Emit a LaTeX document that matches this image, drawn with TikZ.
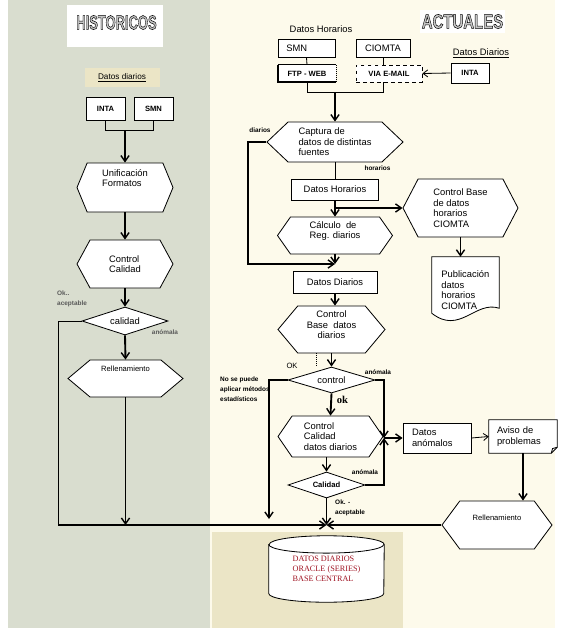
\documentclass[tikz,border=0pt]{standalone}
\usepackage{fontspec}
\setmainfont{Liberation Sans}
\newfontfamily\dbfont{Liberation Serif}
\usetikzlibrary{positioning,arrows.meta,shapes.geometric,shapes.symbols,backgrounds}

\definecolor{histgray}{RGB}{217,221,207}
\definecolor{actcream}{RGB}{253,250,235}
\definecolor{dbtan}{RGB}{235,229,198}
\definecolor{dbred}{RGB}{160,20,35}

\newcommand{\outl}[1]{\special{pdf:literal direct 2 Tr 0.45 w 0 G}#1\special{pdf:literal direct 0 Tr}}
\newcommand{\lifted}[2]{\raisebox{#1}[0pt][0pt]{\begin{tabular}{@{}l@{}}#2\end{tabular}}}

\tikzset{
  sz/.style 2 args={minimum width=#1*0.03cm, minimum height=#2*0.03cm},
  box/.style={draw, fill=white, line width=0.7pt, inner sep=1pt, font=\fontsize{8}{9}\selectfont},
  lbox/.style={box, align=left, inner xsep=0.25cm},
  hexa/.style={draw, fill=white, line width=0.7pt, signal, signal from=nowhere,
    signal to=east and west, inner sep=0pt, align=left, font=\fontsize{8}{9}\selectfont},
  decision/.style={draw, fill=white, line width=0.7pt, diamond, aspect=3, inner sep=0pt,
    font=\fontsize{8}{9}\selectfont},
  bsmall/.style={font=\fontsize{6.5}{8}\selectfont\bfseries},
  tag/.style={font=\fontsize{5.5}{8.5}\selectfont\bfseries, inner sep=0pt, align=left},
  heading/.style={font=\fontsize{17}{17}\selectfont\bfseries, text=gray!45, inner sep=0pt},
  flow/.style={line width=1.6pt, -{Straight Barb[length=5pt,width=7pt,line width=1.2pt]}},
  link/.style={line width=0.7pt},
  thinflow/.style={line width=0.7pt, -{Straight Barb[length=4pt,width=6pt]}},
}

\begin{document}
\begin{tikzpicture}[x=0.03cm, y=-0.03cm]
\useasboundingbox (0,0) rectangle (567,634);
% panels
\begin{scope}[on background layer]
\fill[white] (0,0) rectangle (567,634);
\fill[histgray] (8,0) rectangle (210,628);
\fill[actcream] (210,0) rectangle (555,628);
\fill[dbtan] (212,532) rectangle (403,628);
\fill[white] (67,5) rectangle (163,47);
\fill[white] (420,10) rectangle (505,33);
\fill[dbtan] (85,68) rectangle (160,87);
\end{scope}

% historicos
\node[heading, xscale=0.65] (histit) at (116.5,22.5) {\outl{HISTORICOS}};
\node[font=\fontsize{7}{8}\selectfont, inner sep=0pt] (hdd) at (122,78) {\underline{Datos diarios}};
\node[box, bsmall, sz={39}{23}] (hinta) at (105.5,108.5) {INTA};
\node[box, bsmall, sz={39}{23}] (hsmn) at (153.5,108.5) {SMN};
\node[hexa, sz={96}{49}, signal pointer angle=135] (unif) at (125,187.5) {\lifted{5pt}{Unificación\\Formatos}};
\node[hexa, sz={96}{48}, signal pointer angle=123] (hcal) at (125,264) {Control\\Calidad};
\node[decision, sz={86}{28}] (hcald) at (125,321) {calidad};
\node[hexa, sz={115}{37}, signal pointer angle=80, font=\fontsize{6.5}{8}\selectfont] (hrel) at (125.5,378.5) {\raisebox{6pt}[0pt][0pt]{Rellenamiento}};
\node[tag, text=black!65, anchor=west] (hok) at (57,299) {Ok..\\aceptable};
\node[tag, text=black!65] (hanom) at (165,332) {anómala};

% actuales
\node[heading, xscale=0.75] (acttit) at (462.5,21.5) {\outl{ACTUALES}};
\node[inner sep=0pt, font=\fontsize{8}{9}\selectfont] (lhor) at (321,29) {Datos Horarios};
\node[lbox, sz={57}{18}, text width=1.21cm] (asmn) at (306.5,48) {SMN};
\node[box, sz={54}{18}] (acio) at (383,48) {CIOMTA};
\node[inner sep=0pt, font=\fontsize{8}{9}\selectfont] (lddia) at (481,53) {\underline{Datos Diarios}};
\node[bsmall, fill=white, inner sep=1pt, sz={58}{17}] (ftp) at (307,73.5) {FTP - WEB};
\node[box, bsmall, dashed, sz={66}{17}] (mail) at (389,73.5) {VIA E-MAIL};
\node[box, bsmall, sz={38}{20}] (ainta) at (470,73) {INTA};
\node[hexa, sz={136}{40}, signal pointer angle=87] (capt) at (335,142) {Captura de\\datos de distintas\\fuentes};
\node[tag] (tdia) at (260,130) {diarios};
\node[tag] (thor) at (377.5,168) {horarios};
\node[box, sz={87}{21}] (dhor) at (335,189.5) {Datos Horarios};
\node[hexa, sz={115}{37}, signal pointer angle=110] (calc) at (335,235.5) {\lifted{1.5pt}{Cálculo\ \ de\\Reg. diarios}};
\node[hexa, sz={115}{58}, signal pointer angle=125] (cbh) at (460.5,208) {Control Base\\de datos\\horarios\\CIOMTA};
\node[align=left, text width=1.45cm, inner xsep=0.27cm, sz={67}{66}, font=\fontsize{8}{9}\selectfont] (pub) at (465.5,290) {Publicación\\datos\\horarios\\CIOMTA};
\node[box, sz={84}{22}] (ddia) at (335,282) {Datos Diarios};
\node[hexa, sz={107}{47}, signal pointer angle=100, align=center] (cbd) at (331.5,329.5) {\lifted{1pt}{\hfill Control\hfill\null\\Base\ \ datos\\\hfill diarios\hfill\null}};
\node[decision, sz={87}{26}] (ctrlD) at (331.5,380) {control};
\node[font=\fontsize{6.5}{8}\selectfont, inner sep=0pt] (tok) at (292,366) {OK};
\node[tag] (tan1) at (378,372) {anómala};
\node[tag, anchor=west] (tnsp) at (220,389.5) {No se puede\\aplicar métodos\\estadísticos};
\node[font=\dbfont\bfseries\fontsize{9}{10}\selectfont, inner sep=0pt] (tokb) at (342.5,400) {ok};
\node[hexa, sz={105}{41}, signal pointer angle=111] (ccd) at (330.5,436.5) {Control\\Calidad\\datos diarios};
\node[decision, bsmall, sz={77}{26}] (calD) at (326.5,485) {Calidad};
\node[tag] (tan2) at (365,472) {anómala};
\node[tag, anchor=west] (tokac) at (335,508) {Ok. -\\aceptable};
\node[lbox, sz={68}{30}, text width=1.5cm, inner xsep=0.27cm] (danom) at (437,438) {Datos\\anómalos};
\node[align=left, sz={68}{33}, text width=1.56cm, inner xsep=0.24cm, font=\fontsize{8}{9}\selectfont] (aviso) at (523,436.5) {Aviso de\\problemas};
\node[hexa, sz={110}{48}, signal pointer angle=107, font=\fontsize{6.5}{8}\selectfont] (hrelR) at (497,525) {\raisebox{3.5pt}[0pt][0pt]{Rellenamiento}};
\node[align=left, sz={115}{66}, text=dbred, font=\dbfont\fontsize{7}{8.5}\selectfont] (db) at (326.5,569) {DATOS DIARIOS\\ORACLE (SERIES)\\BASE CENTRAL};

% outlines of the drawn symbols
\begin{scope}[on background layer]
\draw[link, fill=white] (pub.north west) -- (pub.north east) -- ([yshift=0.45cm]pub.south east)
  .. controls ([xshift=-0.72cm,yshift=0.69cm]pub.south east) and ([xshift=0.84cm,yshift=-0.36cm]pub.south west) .. ([yshift=0.3cm]pub.south west) -- cycle;
\draw[link, fill=white] (aviso.north west) -- (aviso.north east) -- ([yshift=0.18cm]aviso.south east)
  -- ([xshift=-0.18cm]aviso.south east) -- (aviso.south west) -- cycle;
\draw[link] ([yshift=0.18cm]aviso.south east) -- ([xshift=-0.14cm,yshift=0.14cm]aviso.south east) -- ([xshift=-0.18cm]aviso.south east);
\draw[link, fill=white] ([yshift=-0.26cm]db.north west) -- ([yshift=0.26cm]db.south west)
  arc[start angle=180, end angle=360, x radius=1.725cm, y radius=0.26cm] -- ([yshift=-0.26cm]db.north east)
  arc[start angle=0, end angle=180, x radius=1.725cm, y radius=0.26cm] -- cycle;
\draw[link] ([yshift=-0.26cm]db.north west) arc[start angle=180, end angle=360, x radius=1.725cm, y radius=0.26cm];
\end{scope}
\draw[link] (ftp.north west) -- (ftp.north east);
\draw[link, densely dotted] (ftp.north east) -- (ftp.south east);
\draw[line width=1.6pt] (ftp.north west) -- (ftp.south west) -- (ftp.south east);

% connectors, historicos
\draw[link] (hinta.south) -- ++(0,10) -| (hsmn.south);
\coordinate (hjoin) at (125,130);
\draw[flow] (hjoin) -- (unif.north);
\draw[flow] (unif.south) -- (hcal.north);
\draw[flow] (hcal.south) -- (hcald.north);
\draw[flow] (hcald.south) -- (hrel.north);
\coordinate (lcorner) at (58,525);
\coordinate (hub) at (326.5,525);
\draw[link] (hcald.west) -| (lcorner);
\draw[flow] (hrel.south) -- (hrel.south |- hub);
\draw[flow] (lcorner) -- (hub);
\draw[flow] (hrelR.west) -- (hub);

% connectors, actuales
\draw[link] (asmn.south) -- (ftp.north);
\draw[link] (acio.south) -- (acio.south |- mail.north);
\draw[thinflow] (ainta.west) -- (mail.east);
\draw[link] (ftp.south) -- ++(0,10) -| (acio.south |- mail.south);
\coordinate (ajoin) at (335,92);
\draw[flow] (ajoin) -- (capt.north);
\draw[link] (capt.south) -- (dhor.north);
\draw[flow] (dhor.south) -- (calc.north);
\draw[flow] (dhor.south |- cbh.west) -- (cbh.west);
\coordinate (djoin) at (335,264);
\draw[flow] (capt.west) -- ++(-18,0) |- (djoin);
\draw[flow] (calc.south) -- (djoin);
\draw[flow] (ddia.south) -- (ddia.south |- cbd.north);
\draw[flow] (cbh.south) -- (cbh.south |- pub.north);
\draw[flow] (cbd.south) -- (ctrlD.north);
\draw[link, densely dotted] ([xshift=-0.45cm]cbd.south) -- ([xshift=-0.45cm,yshift=-0.4cm]cbd.south);
\draw[flow] (ctrlD.south) -- (ccd.north);
\draw[flow] (calD.north |- ccd.south) -- (calD.north);
\coordinate (anjoin) at (384,438);
\draw[flow] (ctrlD.east) -| (anjoin);
\draw[flow] (calD.east) -| (anjoin);
\draw[flow] (anjoin) -- (danom.west);
\coordinate (nspend) at (269,519);
\draw[flow] (ctrlD.west) -| (nspend);
\draw[flow] (calD.south) -- (hub);
\draw[thinflow] (danom.east) -- (aviso.west);
\draw[flow] (aviso.south) -- (aviso.south |- hrelR.north);
\end{tikzpicture}
\end{document}
